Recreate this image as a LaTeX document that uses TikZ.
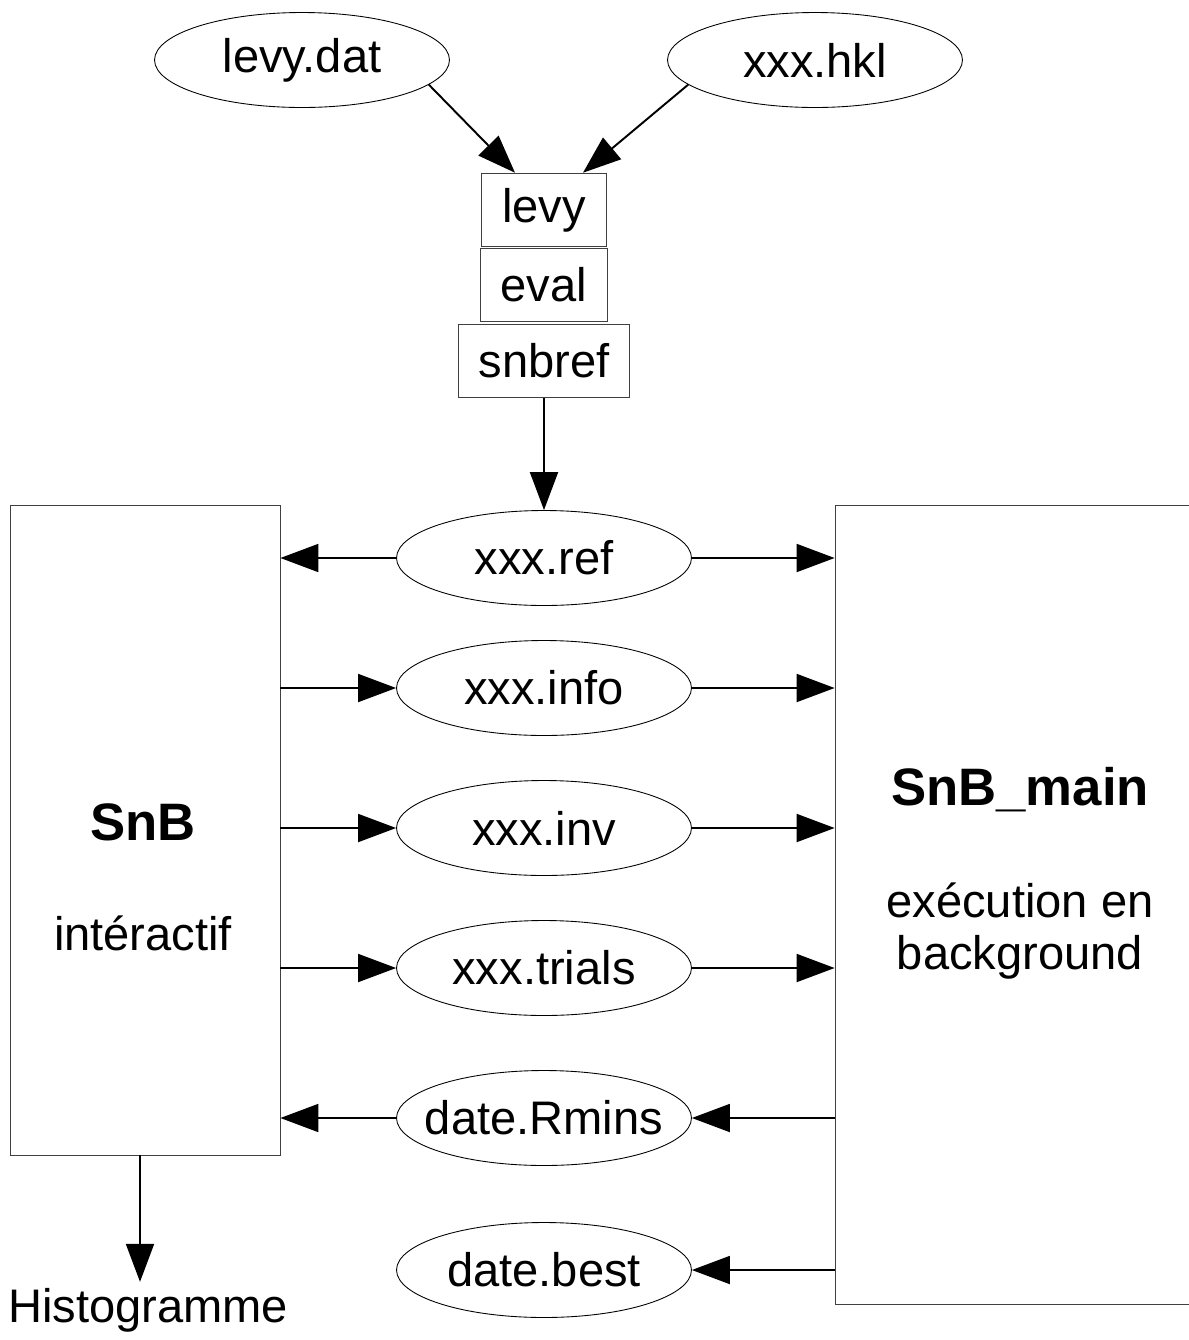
\documentclass[tikz,border=0pt]{standalone}
\usepackage{fontspec}
\setmainfont{Liberation Sans}
\usetikzlibrary{shapes.geometric,arrows.meta}

\begin{document}
\begin{tikzpicture}[x=0.02cm, y=-0.02cm,
  file/.style={draw, ellipse, line width=0.5pt, minimum width=5.9cm, minimum height=1.9cm, inner sep=0pt, font=\fontsize{26.8}{30}\selectfont},
  prog/.style={draw=black!75, line width=0.6pt, minimum height=1.47cm, inner xsep=0.41cm, inner ysep=0pt, font=\fontsize{26.8}{30}\selectfont},
  block/.style={draw=black!75, line width=0.5pt, inner sep=0pt},
  lbl/.style={font=\fontsize{26.8}{30}\selectfont},
  title/.style={font=\fontsize{30}{36}\selectfont\bfseries},
  flow/.style={-{Triangle[length=0.76cm,width=0.56cm]}, line width=1.1pt}]
\useasboundingbox (0,0) rectangle (1189,1340);

% Input files and programs
\node[file] (dat) at (302,60) {levy.dat};
\node[file] (hkl) at (815,60) {xxx.hkl};
\node[prog] (levy) at (544,210) {levy};
\node[prog] (eval) at (544,285) {eval};
\node[prog] (snbref) at (544,361) {snbref};

% The two big blocks
\node[block, minimum width=5.4cm, minimum height=13cm] (snb) at (145,830) {};
\node[title] (snbname) at (143,822) {SnB};
\node[lbl] (snbmode) at (143,933) {intéractif};
\node[block, minimum width=7.4cm, minimum height=16cm] (main) at (1020,905) {};
\node[title] (mainname) at (1020,790) {SnB\_main};
\node[lbl, align=center] (mainmode) at (1020,931) {exécution en\\background};
\node[lbl] (histo) at (148,1310) {Histogramme};

% Exchanged files
\node[file] (ref) at (544,558) {xxx.ref};
\node[file] (info) at (544,688) {xxx.info};
\node[file] (inv) at (544,828) {xxx.inv};
\node[file] (trials) at (544,968) {xxx.trials};
\node[file, inner xsep=-0.35cm] (rmins) at (544,1118) {date.Rmins};
\node[file] (best) at (544,1270) {date.best};

% Arrows
\draw[flow] (dat.-11) -- ([xshift=-0.58cm]levy.north);
\draw[flow] (hkl.191) -- ([xshift=0.78cm]levy.north);
\draw[flow] (snbref) -- (ref);
\draw[flow] (ref) -- (ref -| snb.east);
\draw[flow] (ref) -- (ref -| main.west);
\foreach \f in {info,inv,trials} {
  \draw[flow] (\f -| snb.east) -- (\f);
  \draw[flow] (\f) -- (\f -| main.west);
}
\draw[flow] (rmins -| main.west) -- (rmins);
\draw[flow] (rmins) -- (rmins -| snb.east);
\draw[flow] (best -| main.west) -- (best);
\draw[flow] ([xshift=-0.1cm]snb.south) -- ([xshift=-0.1cm]snb.south |- histo.north);
\end{tikzpicture}
\end{document}
